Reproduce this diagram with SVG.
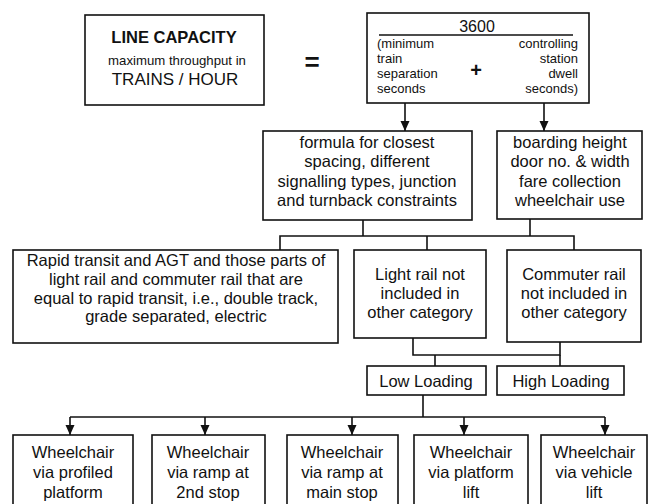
<svg xmlns="http://www.w3.org/2000/svg" width="649" height="504" viewBox="0 0 649 504">
<style>
.box{fill:#fff;stroke:#111;stroke-width:1.6}
.t{font-family:"Liberation Sans",Arial,sans-serif;font-size:16.5px;fill:#111;text-anchor:middle}
.s{font-family:"Liberation Sans",Arial,sans-serif;font-size:13px;fill:#111}
.ln{fill:none;stroke:#111;stroke-width:1.6}
</style>
<defs>
<marker id="ah" markerUnits="userSpaceOnUse" markerWidth="10" markerHeight="10" refX="10" refY="5" orient="auto">
<path d="M0,0.5 L10,5 L0,9.5 z" fill="#111"/>
</marker>
</defs>
<rect width="649" height="504" fill="#fff"/>

<g id="connectors">
<line class="ln" x1="405" y1="103" x2="405" y2="131" marker-end="url(#ah)"/>
<line class="ln" x1="544" y1="103" x2="544" y2="131" marker-end="url(#ah)"/>
<polyline class="ln" points="363,220 363,236"/>
<polyline class="ln" points="530,219 530,236"/>
<polyline class="ln" points="280,250 280,236 574,236 574,250"/>
<line class="ln" x1="427" y1="236" x2="427" y2="250"/>
<polyline class="ln" points="413,338 413,355 560,355 560,342"/>
<line class="ln" x1="435" y1="355" x2="435" y2="366"/>
<line class="ln" x1="560" y1="355" x2="560" y2="366"/>
<line class="ln" x1="423" y1="395" x2="423" y2="417"/>
<line class="ln" x1="70" y1="417" x2="605" y2="417"/>
<line class="ln" x1="70" y1="417" x2="70" y2="435" marker-end="url(#ah)"/>
<line class="ln" x1="205" y1="417" x2="205" y2="435" marker-end="url(#ah)"/>
<line class="ln" x1="352" y1="417" x2="352" y2="435" marker-end="url(#ah)"/>
<line class="ln" x1="464" y1="417" x2="464" y2="435" marker-end="url(#ah)"/>
<line class="ln" x1="605" y1="417" x2="605" y2="435" marker-end="url(#ah)"/>
</g>

<g id="line-capacity">
<rect class="box" x="85" y="15" width="179" height="90"/>
<text class="t" x="174" y="43" style="font-weight:bold;font-size:16.5px">LINE CAPACITY</text>
<text class="t" x="177" y="65" style="font-size:13.2px">maximum throughput in</text>
<text class="t" x="175" y="85" style="font-size:17px">TRAINS / HOUR</text>
</g>

<g id="equals">
<text class="t" x="312" y="71" style="font-weight:bold;font-size:26px">=</text>
</g>

<g id="formula-3600">
<rect class="box" x="367" y="13" width="222" height="90"/>
<text class="t" x="477" y="32" style="font-size:16px">3600</text>
<line class="ln" x1="379" y1="35" x2="573" y2="35"/>
<text class="s" x="377" y="48">(minimum</text>
<text class="s" x="377" y="63">train</text>
<text class="s" x="377" y="78">separation</text>
<text class="s" x="377" y="93">seconds</text>
<text class="s" x="578" y="48" text-anchor="end">controlling</text>
<text class="s" x="578" y="63" text-anchor="end">station</text>
<text class="s" x="578" y="78" text-anchor="end">dwell</text>
<text class="s" x="578" y="93" text-anchor="end">seconds)</text>
<text class="t" x="476" y="77" style="font-weight:bold;font-size:20px">+</text>
</g>

<g id="spacing">
<rect class="box" x="263" y="131" width="209" height="89"/>
<text class="t" x="367" y="148">formula for closest</text>
<text class="t" x="367" y="167">spacing, different</text>
<text class="t" x="367" y="187">signalling types, junction</text>
<text class="t" x="367" y="206">and turnback constraints</text>
</g>

<g id="boarding">
<rect class="box" x="497" y="131" width="145" height="88"/>
<text class="t" x="570" y="148">boarding height</text>
<text class="t" x="570" y="167">door no. &amp; width</text>
<text class="t" x="570" y="187">fare collection</text>
<text class="t" x="570" y="206">wheelchair use</text>
</g>

<g id="rapid-transit">
<rect class="box" x="13" y="250" width="325" height="93"/>
<text class="t" x="176" y="266">Rapid transit and AGT and those parts of</text>
<text class="t" x="176" y="285">light rail and commuter rail that are</text>
<text class="t" x="176" y="304">equal to rapid transit, i.e., double track,</text>
<text class="t" x="176" y="322">grade separated, electric</text>
</g>

<g id="light-rail">
<rect class="box" x="354" y="250" width="132" height="88"/>
<text class="t" x="420" y="280">Light rail not</text>
<text class="t" x="420" y="299">included in</text>
<text class="t" x="420" y="318">other category</text>
</g>

<g id="commuter-rail">
<rect class="box" x="507" y="250" width="134" height="92"/>
<text class="t" x="574" y="280">Commuter rail</text>
<text class="t" x="574" y="299">not included in</text>
<text class="t" x="574" y="318">other category</text>
</g>

<g id="low-loading">
<rect class="box" x="367" y="366" width="119" height="29"/>
<text class="t" x="426" y="387">Low Loading</text>
</g>

<g id="high-loading">
<rect class="box" x="497" y="366" width="127" height="29"/>
<text class="t" x="561" y="387">High Loading</text>
</g>

<g id="profiled-platform">
<rect class="box" x="13" y="435" width="120" height="85"/>
<text class="t" x="73" y="458">Wheelchair</text>
<text class="t" x="73" y="478">via profiled</text>
<text class="t" x="73" y="498">platform</text>
</g>

<g id="ramp-2nd">
<rect class="box" x="152" y="435" width="113" height="85"/>
<text class="t" x="208" y="458">Wheelchair</text>
<text class="t" x="208" y="478">via ramp at</text>
<text class="t" x="208" y="498">2nd stop</text>
</g>

<g id="ramp-main">
<rect class="box" x="287" y="435" width="111" height="85"/>
<text class="t" x="342" y="458">Wheelchair</text>
<text class="t" x="342" y="478">via ramp at</text>
<text class="t" x="342" y="498">main stop</text>
</g>

<g id="platform-lift">
<rect class="box" x="414" y="435" width="114" height="85"/>
<text class="t" x="471" y="458">Wheelchair</text>
<text class="t" x="471" y="478">via platform</text>
<text class="t" x="471" y="498">lift</text>
</g>

<g id="vehicle-lift">
<rect class="box" x="541" y="435" width="106" height="85"/>
<text class="t" x="594" y="458">Wheelchair</text>
<text class="t" x="594" y="478">via vehicle</text>
<text class="t" x="594" y="498">lift</text>
</g>
</svg>
